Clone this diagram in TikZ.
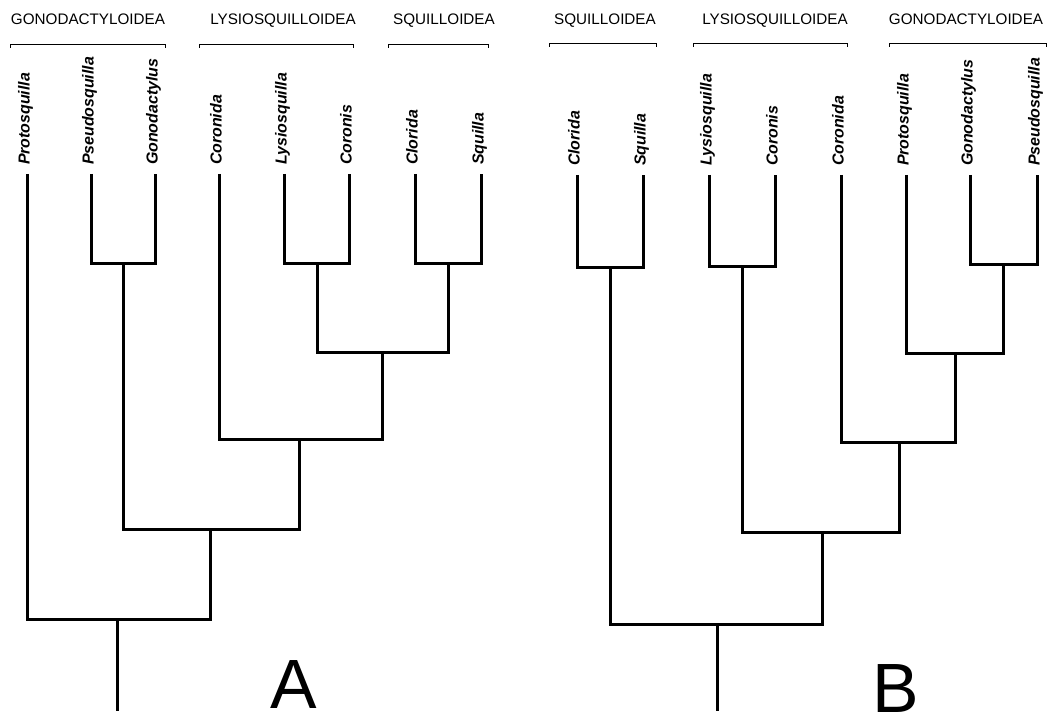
\documentclass[tikz,border=0pt]{standalone}
\usepackage{fontspec}
\setmainfont{Liberation Sans}
\begin{document}
\begin{tikzpicture}[x=1bp,y=-1bp,
  branch/.style={line width=3bp, line join=miter},
  taxon/.style={rotate=90, anchor=west, font=\fontsize{16}{16}\selectfont\bfseries\itshape,
    inner xsep=0pt, inner ysep=0pt, outer xsep=9bp, outer ysep=0pt, text height=0.72em, text depth=0.2em},
  group/.style={anchor=base, font=\fontsize{15.3}{16}\selectfont, inner sep=0pt},
  bracketline/.style={line width=0.9bp},
  panel/.style={anchor=base, font=\fontsize{70}{70}\selectfont, inner sep=0pt}]
\useasboundingbox (0,0) rectangle (1051,716);

% ---------------- Tree A ----------------
\node[group] (gA1) at (88,25) {GONODACTYLOIDEA};
\node[group] (gA2) at (283,25) {LYSIOSQUILLOIDEA};
\node[group] (gA3) at (444,25) {SQUILLOIDEA};
\draw[bracketline] (10,48) -- (10,44) -- (165,44) -- (165,48);
\draw[bracketline] (199,48) -- (199,44) -- (353,44) -- (353,48);
\draw[bracketline] (388,48) -- (388,44) -- (488,44) -- (488,48);

\node[taxon] (a1) at (27,174) {Protosquilla};
\node[taxon] (a2) at (91,174) {Pseudosquilla};
\node[taxon] (a3) at (155,174) {Gonodactylus};
\node[taxon] (a4) at (219,174) {Coronida};
\node[taxon] (a5) at (284,174) {Lysiosquilla};
\node[taxon] (a6) at (349,174) {Coronis};
\node[taxon] (a7) at (415,174) {Clorida};
\node[taxon] (a8) at (481,174) {Squilla};

\coordinate (jA1) at (123,263);
\coordinate (jA2) at (317,263);
\coordinate (jA3) at (448,263);
\coordinate (jA4) at (382,352);
\coordinate (jA5) at (299,439);
\coordinate (jA6) at (210,529);
\coordinate (jA7) at (117,619);
\coordinate (rA) at (117,711);

\draw[branch] (a2.west) |- (jA1) -| (a3.west);
\draw[branch] (a5.west) |- (jA2) -| (a6.west);
\draw[branch] (a7.west) |- (jA3) -| (a8.west);
\draw[branch] (jA2) |- (jA4) -| (jA3);
\draw[branch] (a4.west) |- (jA5) -| (jA4);
\draw[branch] (jA1) |- (jA6) -| (jA5);
\draw[branch] (a1.west) |- (jA7) -| (jA6);
\draw[branch] (jA7) -- (rA);

\node[panel] (pA) at (294,708) {A};

% ---------------- Tree B ----------------
\node[group] (gB1) at (605,25) {SQUILLOIDEA};
\node[group] (gB2) at (775,25) {LYSIOSQUILLOIDEA};
\node[group] (gB3) at (966,25) {GONODACTYLOIDEA};
\draw[bracketline] (549,47) -- (549,43) -- (656,43) -- (656,47);
\draw[bracketline] (693,47) -- (693,43) -- (847,43) -- (847,47);
\draw[bracketline] (889,47) -- (889,43) -- (1046,43) -- (1046,47);

\node[taxon] (b1) at (577,175) {Clorida};
\node[taxon] (b2) at (643,175) {Squilla};
\node[taxon] (b3) at (709,175) {Lysiosquilla};
\node[taxon] (b4) at (775,175) {Coronis};
\node[taxon] (b5) at (841,175) {Coronida};
\node[taxon] (b6) at (906,175) {Protosquilla};
\node[taxon] (b7) at (970,175) {Gonodactylus};
\node[taxon] (b8) at (1037,175) {Pseudosquilla};

\coordinate (jB1) at (610,267);
\coordinate (jB2) at (742,266);
\coordinate (jB3) at (1003,264);
\coordinate (jB4) at (955,353);
\coordinate (jB5) at (899,442);
\coordinate (jB6) at (822,532);
\coordinate (jB7) at (717,624);
\coordinate (rB) at (717,711);

\draw[branch] (b1.west) |- (jB1) -| (b2.west);
\draw[branch] (b3.west) |- (jB2) -| (b4.west);
\draw[branch] (b7.west) |- (jB3) -| (b8.west);
\draw[branch] (b6.west) |- (jB4) -| (jB3);
\draw[branch] (b5.west) |- (jB5) -| (jB4);
\draw[branch] (jB2) |- (jB6) -| (jB5);
\draw[branch] (jB1) |- (jB7) -| (jB6);
\draw[branch] (jB7) -- (rB);

\node[panel] (pB) at (896,712) {B};
\end{tikzpicture}
\end{document}
